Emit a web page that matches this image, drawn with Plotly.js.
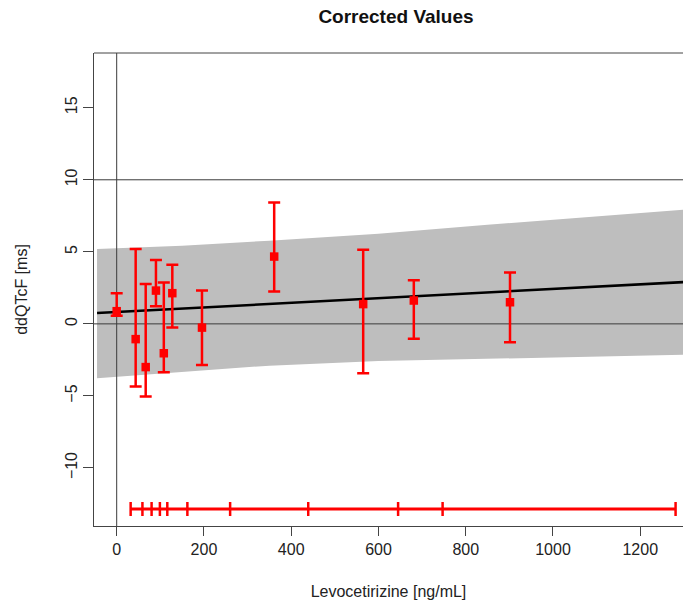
<!DOCTYPE html>
<html><head><meta charset="utf-8">
<script src="https://cdn.plot.ly/plotly-3.0.1.min.js"></script>
<style>html,body{margin:0;padding:0;background:#fff}</style>
</head><body>
<div id="chart" style="width:683px;height:600px"></div>
<script>
// Binned observations: concentration (ng/mL), mean ddQTcF and 90% CI (ms)
const concX   = [0, 43.5, 66.5, 90, 108, 127.5, 195.5, 361, 565, 681, 901.5];
const ddqtcf  = [0.88, -1.06, -3.0, 2.31, -2.04, 2.13, -0.26, 4.67, 1.37, 1.62, 1.5];
const ciUpper = [2.13, 5.2, 2.76, 4.44, 2.87, 4.1, 2.31, 8.42, 5.14, 3.03, 3.56];
const ciLower = [0.56, -4.35, -5.05, 1.22, -3.35, -0.26, -2.85, 2.24, -3.43, -1.04, -1.27];

// Model fit line and its confidence band
const fitX      = [-45, 1300];
const fitY      = [0.75, 2.9];
const bandX     = [-45, 150, 350, 600, 850, 1100, 1300];
const bandUpper = [5.2, 5.43, 5.77, 6.25, 6.88, 7.45, 7.93];
const bandLower = [-3.77, -3.34, -2.9, -2.58, -2.41, -2.27, -2.15];

// Concentration decile boundaries shown at the bottom
const decileX   = [32, 59, 80, 99, 116, 162, 260, 439, 645, 747, 1281];
const decileLevel = -12.85;

// Axis ticks
const xTicks = [0, 200, 400, 600, 800, 1000, 1200];
const yTicks = [-10, -5, 0, 5, 10, 15];
const yTickText = ['\u221210', '\u22125', '0', '5', '10', '15'];
const refH = [0, 10];
const refV = [0];

const xRange = [-52, 1298];
const yRange = [-14.03, 18.8];

const FONT = 'Liberation Sans, Arial, Helvetica, sans-serif';
const RED = '#FF0000';
const REF = '#3a3a3a';

const traces = [];
traces.push({
  x: bandX.concat(bandX.slice().reverse()),
  y: bandUpper.concat(bandLower.slice().reverse()),
  mode: 'lines', fill: 'toself', fillcolor: '#BEBEBE',
  line: {width: 0, color: '#BEBEBE'}, hoverinfo: 'skip'
});
refH.forEach(v => traces.push({
  x: [xRange[0] - 100, xRange[1] + 100], y: [v, v], mode: 'lines',
  line: {color: REF, width: 1}, hoverinfo: 'skip'
}));
refV.forEach(v => traces.push({
  x: [v, v], y: [yRange[0] - 5, yRange[1] + 5], mode: 'lines',
  line: {color: REF, width: 1}, hoverinfo: 'skip'
}));
traces.push({
  x: fitX, y: fitY, mode: 'lines', line: {color: '#000000', width: 2.5}, hoverinfo: 'skip'
});
traces.push({
  x: concX, y: ddqtcf, mode: 'markers',
  marker: {symbol: 'square', size: 8.5, color: RED},
  error_y: {
    type: 'data', symmetric: false,
    array: ciUpper.map((u, i) => u - ddqtcf[i]),
    arrayminus: ciLower.map((l, i) => ddqtcf[i] - l),
    color: RED, thickness: 2.5, width: 6
  }
});
traces.push({
  x: decileX, y: decileX.map(() => decileLevel), mode: 'lines+markers',
  line: {color: RED, width: 3},
  marker: {symbol: 'line-ns', size: 10, color: RED, line: {color: RED, width: 2.5}}
});

const layout = {
  width: 683, height: 600,
  margin: {l: 94, r: 0, t: 53, b: 74, pad: 0},
  showlegend: false,
  paper_bgcolor: '#ffffff', plot_bgcolor: '#ffffff',
  font: {family: FONT, color: '#222222', size: 16},
  title: {
    text: '<b>Corrected Values</b>',
    font: {family: FONT, size: 19, color: '#111111'},
    x: 396 / 683, xanchor: 'center', xref: 'container',
    y: 1 - 16 / 600, yanchor: 'middle', yref: 'container'
  },
  xaxis: {
    range: xRange, tickvals: xTicks, ticktext: xTicks.map(String),
    ticks: 'outside', ticklen: 9, tickwidth: 1, tickcolor: '#444444',
    showline: true, linecolor: '#444444', linewidth: 1,
    showgrid: false, zeroline: false, automargin: false,
    tickfont: {family: FONT, size: 16, color: '#222222'},
    title: {text: 'Levocetirizine [ng/mL]', font: {family: FONT, size: 16, color: '#222222'}, standoff: 28}
  },
  yaxis: {
    range: yRange, tickvals: yTicks, ticktext: yTickText, tickangle: -90,
    ticks: 'outside', ticklen: 10, tickwidth: 1, tickcolor: '#444444',
    showline: true, linecolor: '#444444', linewidth: 1,
    showgrid: false, zeroline: false, automargin: false,
    tickfont: {family: FONT, size: 16, color: '#222222'},
    title: {text: 'ddQTcF [ms]', font: {family: FONT, size: 16, color: '#222222'}, standoff: 30}
  },
  shapes: [{
    type: 'line', xref: 'paper', yref: 'paper', x0: 0, x1: 1, y0: 1, y1: 1,
    line: {color: '#444444', width: 1}
  }]
};

Plotly.newPlot('chart', traces, layout, {displayModeBar: false, staticPlot: true});
</script>
</body></html>
